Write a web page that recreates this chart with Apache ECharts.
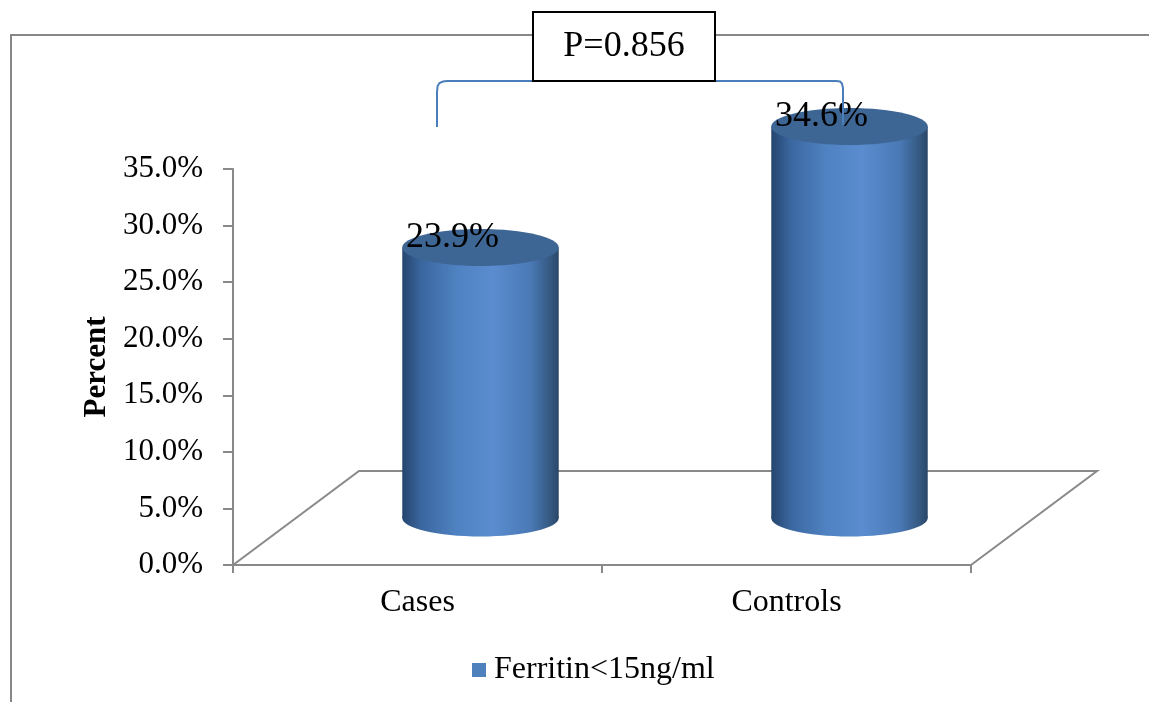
<!DOCTYPE html>
<html>
<head>
<meta charset="utf-8">
<script src="https://cdn.jsdelivr.net/npm/echarts@6/dist/echarts.min.js"></script>
<style>
  html, body { margin: 0; padding: 0; background: #fff; }
  #chart { width: 1149px; height: 702px; }
</style>
</head>
<body>
<div id="chart"></div>
<script>
// Share of participants with low ferritin, by group
const categories = ['Cases', 'Controls'];
const ferritinPct = [23.9, 34.6];
const seriesName = 'Ferritin<15ng/ml';
const pValueText = 'P=0.856';
const axisTitle = 'Percent';

const SERIF = "'Liberation Serif', 'Times New Roman', serif";
const GRID_GRAY = '#898989';

// Depth of the 3D floor (back edge offset from the front edge)
const DEPTH_X = 126;
const DEPTH_Y = 94;

const chart = echarts.init(document.getElementById('chart'), null, { renderer: 'canvas' });

const bodyGradient = {
  type: 'linear', x: 0, y: 0, x2: 1, y2: 0,
  colorStops: [
    { offset: 0, color: '#25456e' },
    { offset: 0.12, color: '#3a669e' },
    { offset: 0.35, color: '#4f82c2' },
    { offset: 0.58, color: '#5a8ccf' },
    { offset: 0.82, color: '#4a79b6' },
    { offset: 0.95, color: '#34587f' },
    { offset: 1, color: '#2a4668' }
  ]
};

function renderCylinder(params, api) {
  const idx = api.value(0);
  const val = api.value(1);
  const top = api.coord([idx, val]);
  const base = api.coord([idx, 0]);
  const band = api.size([1, 0])[0];
  const cx = top[0] + DEPTH_X / 2;
  const topY = top[1] - DEPTH_Y / 2;
  const botY = base[1] - DEPTH_Y / 2;
  const rx = band * 0.212;
  const ry = 18.5;
  return {
    type: 'group',
    children: [
      { type: 'rect', shape: { x: cx - rx, y: topY, width: rx * 2, height: botY - topY },
        style: { fill: bodyGradient } },
      { type: 'ellipse', shape: { cx: cx, cy: botY, rx: rx, ry: ry },
        style: { fill: bodyGradient } },
      { type: 'ellipse', shape: { cx: cx, cy: topY, rx: rx, ry: ry },
        style: { fill: '#3e6695' } },
      { type: 'text', x: cx - 28, y: topY - 10,
        style: { text: val.toFixed(1) + '%', font: '36px ' + SERIF, fill: '#000',
                 align: 'center', verticalAlign: 'middle' } }
    ]
  };
}

function renderFloor(params, api) {
  const cs = params.coordSys;
  const x0 = cs.x, x1 = cs.x + cs.width, y0 = cs.y + cs.height;
  return {
    type: 'polyline',
    shape: { points: [
      [x0, y0], [x0 + DEPTH_X, y0 - DEPTH_Y], [x1 + DEPTH_X, y0 - DEPTH_Y], [x1, y0]
    ] },
    style: { stroke: GRID_GRAY, lineWidth: 2, fill: null }
  };
}

const option = {
  animation: false,
  backgroundColor: '#ffffff',
  grid: { left: 233, top: 169, width: 738, height: 396, outerBoundsMode: 'none', containLabel: false },
  xAxis: {
    type: 'category',
    data: categories,
    boundaryGap: true,
    axisLine: { show: true, lineStyle: { color: GRID_GRAY, width: 2 } },
    axisTick: { show: true, length: 8, lineStyle: { color: GRID_GRAY, width: 2 } },
    axisLabel: { margin: 22, fontSize: 32, fontFamily: SERIF, color: '#000' },
    splitLine: { show: false }
  },
  yAxis: {
    type: 'value',
    min: 0, max: 35, interval: 5,
    name: axisTitle,
    nameLocation: 'middle',
    nameRotate: 90,
    nameGap: 120,
    nameTextStyle: { fontSize: 31, fontWeight: 'bold', fontFamily: SERIF, color: '#000' },
    axisLine: { show: true, lineStyle: { color: GRID_GRAY, width: 2 } },
    axisTick: { show: true, length: 10, lineStyle: { color: GRID_GRAY, width: 2 } },
    axisLabel: { margin: 30, fontSize: 31, fontFamily: SERIF, color: '#000',
                 formatter: v => v.toFixed(1) + '%' },
    splitLine: { show: false }
  },
  legend: {
    data: [seriesName],
    left: 467, top: 648,
    icon: 'rect', itemWidth: 14, itemHeight: 14, itemGap: 10,
    textStyle: { fontSize: 32, fontFamily: SERIF, color: '#000', lineHeight: 34, padding: [0, 0, 0, 3] }
  },
  series: [
    {
      name: 'floor', type: 'custom', z: 1, silent: true,
      data: [[0]],
      renderItem: renderFloor
    },
    {
      name: seriesName, type: 'custom', z: 5,
      itemStyle: { color: '#4f81bd' },
      encode: { x: 0, y: 1 },
      data: ferritinPct.map((v, i) => [i, v]),
      renderItem: renderCylinder
    }
  ],
  graphic: [
    // outer chart frame (top and left edges)
    { type: 'polyline', z: 0, shape: { points: [[11, 702], [11, 35], [1149, 35]] },
      style: { stroke: '#878787', lineWidth: 2, fill: null } },
    // comparison bracket between the two groups
    { type: 'polyline', z: 10,
      shape: { points: [[437, 127], [437, 92], [437.6, 86], [439.5, 83], [443, 81.5], [447, 81],
                        [836, 81], [840, 81.5], [842, 83.5], [843, 88], [843, 125]] },
      style: { stroke: '#4a7ebb', lineWidth: 2, fill: null } },
    // p-value box
    { type: 'rect', z: 11, shape: { x: 533, y: 12, width: 182, height: 69 },
      style: { fill: '#fff', stroke: '#000', lineWidth: 2 } },
    { type: 'text', z: 12, x: 624, y: 47,
      style: { text: pValueText, font: '36px ' + SERIF, fill: '#000', align: 'center', verticalAlign: 'middle' } }
  ]
};

chart.setOption(option);
</script>
</body>
</html>
